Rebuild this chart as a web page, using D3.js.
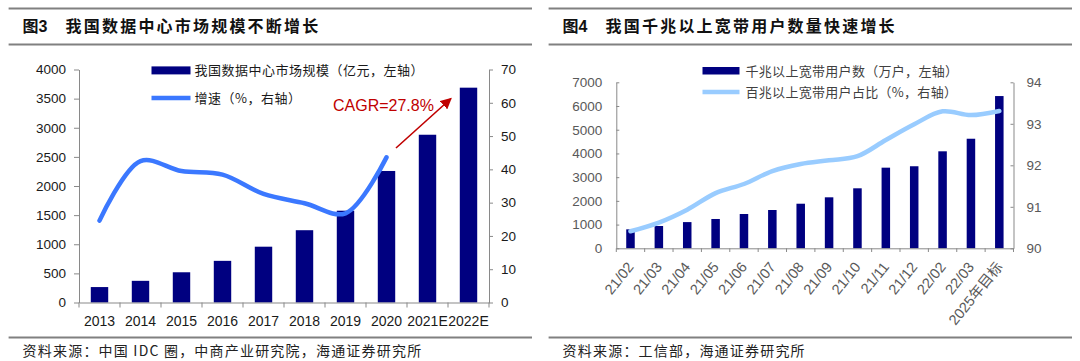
<!DOCTYPE html>
<html><head><meta charset="utf-8">
<script src="https://cdn.jsdelivr.net/npm/d3@7"></script>
<style>
body{margin:0;background:#fff;}
svg{display:block;}
</style></head>
<body><svg id="c" width="1080" height="361"></svg>
<script>
// ---- Data: Figure 3 ----
const years = ["2013","2014","2015","2016","2017","2018","2019","2020","2021E","2022E"];
const marketSize = [265, 372, 519, 715, 958, 1241, 1576, 2258, 2880, 3688];
const growthYears = ["2013","2014","2015","2016","2017","2018","2019","2020"];
const growthRate = [24.6, 42.5, 39.5, 38.4, 32.6, 29.8, 26.8, 43.6];
const leftTicksL = [0,500,1000,1500,2000,2500,3000,3500,4000];
const rightTicksL = [0,10,20,30,40,50,60,70];

// ---- Data: Figure 4 ----
const months = ["21/02","21/03","21/04","21/05","21/06","21/07","21/08","21/09","21/10","21/11","21/12","22/02","22/03","2025年目标"];
const gigaUsers = [800, 940, 1105, 1236, 1446, 1615, 1880, 2150, 2530, 3400, 3460, 4090, 4620, 6420];
const share100M = [90.41, 90.62, 90.93, 91.33, 91.55, 91.86, 92.03, 92.12, 92.22, 92.61, 92.99, 93.30, 93.21, 93.31];
const leftTicksR = [0,1000,2000,3000,4000,5000,6000,7000];
const rightTicksR = [90,91,92,93,94];

const svg = d3.select("#c");
const CJK = "'Noto Sans CJK SC', sans-serif";
const NUM = "'Liberation Sans', Arial, sans-serif";
const axisCol = "#898989";
const fmt = d3.format("d");

// ---- Title & source rules ----
function frame(x0, x1, title1, title2, source){
  [8.6, 44.5, 337.5].forEach(y => svg.append("line")
    .attr("x1", x0).attr("x2", x1).attr("y1", y).attr("y2", y)
    .attr("stroke", "#808080").attr("stroke-width", 2));
  svg.append("text").attr("x", x0 + 14).attr("y", 31.5)
    .attr("font-family", NUM + "," + CJK).attr("font-weight", "bold").attr("font-size", 16)
    .attr("fill", "#111").text(title1);
  svg.append("text").attr("x", x0 + 57).attr("y", 31.5)
    .attr("font-family", CJK).attr("font-weight", "bold").attr("font-size", 16)
    .attr("letter-spacing", "2.2px").attr("fill", "#111").text(title2);
  svg.append("text").attr("x", x0 + 14).attr("y", 356)
    .attr("font-family", CJK).attr("font-size", 14).attr("letter-spacing", "1.2px")
    .attr("fill", "#222").text(source);
}
frame(8.6, 532, "图3", "我国数据中心市场规模不断增长", "资料来源：中国 IDC 圈，中商产业研究院，海通证券研究所");
frame(548.6, 1072, "图4", "我国千兆以上宽带用户数量快速增长", "资料来源：工信部，海通证券研究所");

// ================= Figure 3 =================
{
  const x = d3.scaleBand().domain(years).range([79, 489]).paddingInner(0.575).paddingOuter(0.2875);
  const yL = d3.scaleLinear().domain([0, 4000]).range([302.5, 69.5]);
  const yR = d3.scaleLinear().domain([0, 70]).range([302.5, 69.5]);
  const g = svg.append("g");
  const step = x.step();
  const x0 = x.range()[0];

  g.selectAll("rect.bar").data(years).join("rect").attr("class","bar")
    .attr("x", d => x(d)).attr("width", x.bandwidth())
    .attr("y", (d,i) => yL(marketSize[i])).attr("height", (d,i) => yL(0) - yL(marketSize[i]))
    .attr("fill", "#000080");

  const axL = g.append("g").attr("transform", "translate(79,0)")
    .call(d3.axisLeft(yL).tickValues(leftTicksL).tickFormat(fmt).tickSize(5).tickSizeOuter(0).tickPadding(8));
  const axR = g.append("g").attr("transform", "translate(489,0)")
    .call(d3.axisRight(yR).tickValues(rightTicksL).tickFormat(fmt).tickSize(4).tickSizeOuter(0).tickPadding(8));
  const axB = g.append("g").attr("transform", "translate(0,302.5)")
    .call(d3.axisBottom(x).tickSize(0).tickPadding(14).tickSizeOuter(0));
  [axL, axR, axB].forEach(a => {
    a.selectAll("path.domain").attr("stroke", axisCol);
    a.selectAll("line").attr("stroke", axisCol);
    a.selectAll("text").attr("font-family", NUM).attr("font-size", 14).attr("fill", "#1a1a1a");
  });
  axL.selectAll("text").attr("font-size", 13.5);
  axR.selectAll("text").attr("font-size", 13.5);
  g.selectAll("line.bt").data(d3.range(years.length + 1)).join("line").attr("class","bt")
    .attr("x1", i => x0 + i*step).attr("x2", i => x0 + i*step)
    .attr("y1", 302.5).attr("y2", 307.5).attr("stroke", axisCol);

  const line = d3.line().x((d,i) => x(growthYears[i]) + x.bandwidth()/2).y(d => yR(d))
    .curve(d3.curveCatmullRom.alpha(0.5));
  g.append("path").datum(growthRate).attr("d", line)
    .attr("fill", "none").attr("stroke", "#3b78ff").attr("stroke-width", 4.5)
    .attr("stroke-linecap", "round");

  g.append("rect").attr("x", 151.5).attr("y", 66.4).attr("width", 39).attr("height", 8).attr("fill", "#000080");
  g.append("line").attr("x1", 151.5).attr("x2", 190.5).attr("y1", 98).attr("y2", 98)
    .attr("stroke", "#3b78ff").attr("stroke-width", 4.5);
  g.append("text").attr("x", 194.5).attr("y", 75).attr("font-family", CJK).attr("font-size", 13)
    .attr("letter-spacing", "0.5px").attr("fill", "#1a1a1a").text("我国数据中心市场规模（亿元，左轴）");
  g.append("text").attr("x", 194.5).attr("y", 102.5).attr("font-family", CJK).attr("font-size", 13)
    .attr("letter-spacing", "0.5px").attr("fill", "#1a1a1a").text("增速（%，右轴）");

  svg.append("defs").append("marker").attr("id", "arr").attr("viewBox", "0 0 10 10")
    .attr("refX", 9).attr("refY", 5).attr("markerWidth", 7).attr("markerHeight", 7)
    .attr("markerUnits", "strokeWidth").attr("orient", "auto")
    .append("path").attr("d", "M0,0 L10,5 L0,10 z").attr("fill", "#c00000");
  g.append("line").attr("x1", 396).attr("y1", 148).attr("x2", 451).attr("y2", 98.5)
    .attr("stroke", "#c00000").attr("stroke-width", 1.6).attr("marker-end", "url(#arr)");
  g.append("text").attr("x", 333).attr("y", 110.5).attr("font-family", NUM).attr("font-size", 16)
    .attr("fill", "#c00000").text("CAGR=27.8%");
}

// ================= Figure 4 =================
{
  const x = d3.scaleBand().domain(months).range([616.3, 1013.5]).paddingInner(0.7).paddingOuter(0.35);
  const yL = d3.scaleLinear().domain([0, 7000]).range([248.3, 82.3]);
  const yR = d3.scaleLinear().domain([90, 94]).range([248.3, 82.3]);
  const g = svg.append("g");
  const step = x.step();
  const x0 = x.range()[0];

  g.selectAll("rect.bar").data(months).join("rect").attr("class","bar")
    .attr("x", d => x(d)).attr("width", x.bandwidth())
    .attr("y", (d,i) => yL(gigaUsers[i])).attr("height", (d,i) => yL(0) - yL(gigaUsers[i]))
    .attr("fill", "#000080");

  const axL = g.append("g").attr("transform", "translate(616.3,0)")
    .call(d3.axisLeft(yL).tickValues(leftTicksR).tickFormat(fmt).tickSize(-3).tickSizeOuter(0).tickPadding(14));
  const axR = g.append("g").attr("transform", "translate(1013.5,0)")
    .call(d3.axisRight(yR).tickValues(rightTicksR).tickFormat(fmt).tickSize(-3).tickSizeOuter(0).tickPadding(13));
  const axB = g.append("g").attr("transform", "translate(0,248.3)")
    .call(d3.axisBottom(x).tickSize(0).tickSizeOuter(0).tickFormat(""));
  [axL, axR, axB].forEach(a => {
    a.selectAll("path.domain").attr("stroke", axisCol);
    a.selectAll("line").attr("stroke", axisCol);
    a.selectAll("text").attr("font-family", NUM).attr("font-size", 13.5).attr("fill", "#595959");
  });
  g.selectAll("line.bt").data(d3.range(months.length + 1)).join("line").attr("class","bt")
    .attr("x1", i => x0 + i*step).attr("x2", i => x0 + i*step)
    .attr("y1", 248.3).attr("y2", 252).attr("stroke", axisCol);

  g.selectAll("text.xl").data(months).join("text").attr("class","xl")
    .attr("transform", d => `translate(${x(d) + x.bandwidth()/2},${264}) rotate(-51)`)
    .attr("text-anchor", "end").attr("dy", "0.35em")
    .attr("font-family", NUM + "," + CJK).attr("font-size", 14.5).attr("fill", "#595959")
    .text(d => d);

  const line = d3.line().x((d,i) => x(months[i]) + x.bandwidth()/2).y(d => yR(d))
    .curve(d3.curveCatmullRom.alpha(0.5));
  g.append("path").datum(share100M).attr("d", line)
    .attr("fill", "none").attr("stroke", "#99ccff").attr("stroke-width", 4.5)
    .attr("stroke-linecap", "round");

  g.append("rect").attr("x", 702.5).attr("y", 67).attr("width", 37).attr("height", 7.5).attr("fill", "#000080");
  g.append("line").attr("x1", 702.5).attr("x2", 739.5).attr("y1", 92).attr("y2", 92)
    .attr("stroke", "#99ccff").attr("stroke-width", 4.5);
  g.append("text").attr("x", 745.5).attr("y", 75.5).attr("font-family", CJK).attr("font-size", 13)
    .attr("letter-spacing", "0.3px").attr("fill", "#404040").text("千兆以上宽带用户数（万户，左轴）");
  g.append("text").attr("x", 745.5).attr("y", 96.5).attr("font-family", CJK).attr("font-size", 13)
    .attr("letter-spacing", "0.3px").attr("fill", "#404040").text("百兆以上宽带用户占比（%，右轴）");
}
</script></body></html>
